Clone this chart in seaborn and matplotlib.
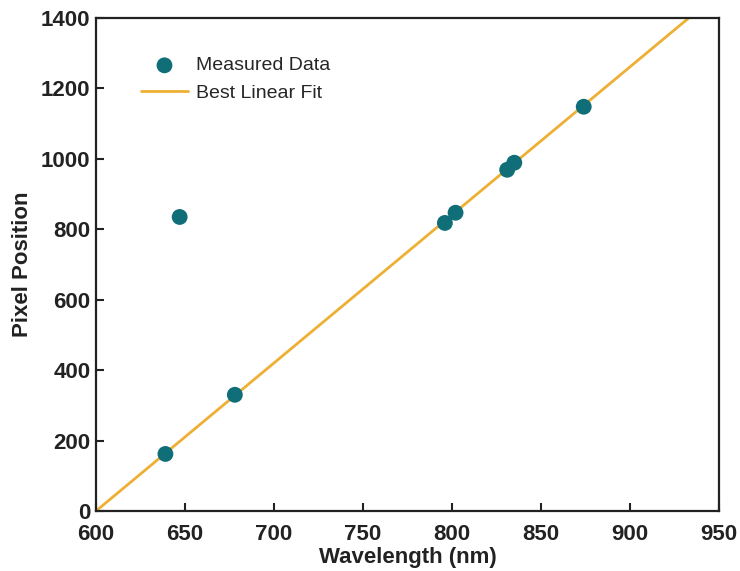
import matplotlib
matplotlib.use("Agg")
import matplotlib.pyplot as plt
import seaborn as sns
import pandas as pd

# Data
wavelength = [639, 647, 678, 796, 802, 831, 835, 874]
pixel = [162, 835, 330, 818, 847, 969, 989, 1148]
fit_wavelength = [600, 933]
fit_pixel = [0, 1400]
x_ticks = [600, 650, 700, 750, 800, 850, 900, 950]
y_ticks = [0, 200, 400, 600, 800, 1000, 1200, 1400]

sns.set_theme(style="ticks")
plt.rcParams['font.family'] = ['Liberation Sans', 'DejaVu Sans']

df = pd.DataFrame({"Wavelength": wavelength, "Pixel": pixel})
fit_df = pd.DataFrame({"Wavelength": fit_wavelength, "Pixel": fit_pixel})

fig = plt.figure(figsize=(7.4, 5.71), dpi=100)
ax = fig.add_axes([96/740, 1 - 511/571, (719-96)/740, (511-18)/571])

sns.lineplot(data=fit_df, x="Wavelength", y="Pixel", ax=ax, color="#EDB035",
             linewidth=2.0, label="Best Linear Fit", zorder=2)
sns.scatterplot(data=df, x="Wavelength", y="Pixel", ax=ax, color="#0F6E78",
                s=130, edgecolor="none", label="Measured Data", zorder=3)

ax.set_xlim(600, 950)
ax.set_ylim(0, 1400)
ax.set_xticks(x_ticks)
ax.set_yticks(y_ticks)
ax.set_xlabel("Wavelength (nm)", fontsize=16, fontweight="bold", color="#222222", labelpad=2)
ax.set_ylabel("Pixel Position", fontsize=16, fontweight="bold", color="#222222", labelpad=6)

for lab in ax.get_xticklabels() + ax.get_yticklabels():
    lab.set_fontweight("bold")
ax.tick_params(axis="both", direction="in", length=6, width=1.5, labelsize=16,
               colors="#222222", pad=4)
ax.tick_params(axis="x", pad=9)
for side in ["left", "bottom", "right", "top"]:
    ax.spines[side].set_visible(True)
    ax.spines[side].set_linewidth(1.6)
    ax.spines[side].set_color("#222222")

handles, labels = ax.get_legend_handles_labels()
order = [labels.index("Measured Data"), labels.index("Best Linear Fit")]
ax.legend([handles[i] for i in order], [labels[i] for i in order],
          loc="upper left", bbox_to_anchor=(0.06, 0.937), frameon=False,
          fontsize=14, handlelength=2.4, handletextpad=0.4, labelspacing=0.5,
          borderaxespad=0)

fig.savefig("out.png", dpi=100)
